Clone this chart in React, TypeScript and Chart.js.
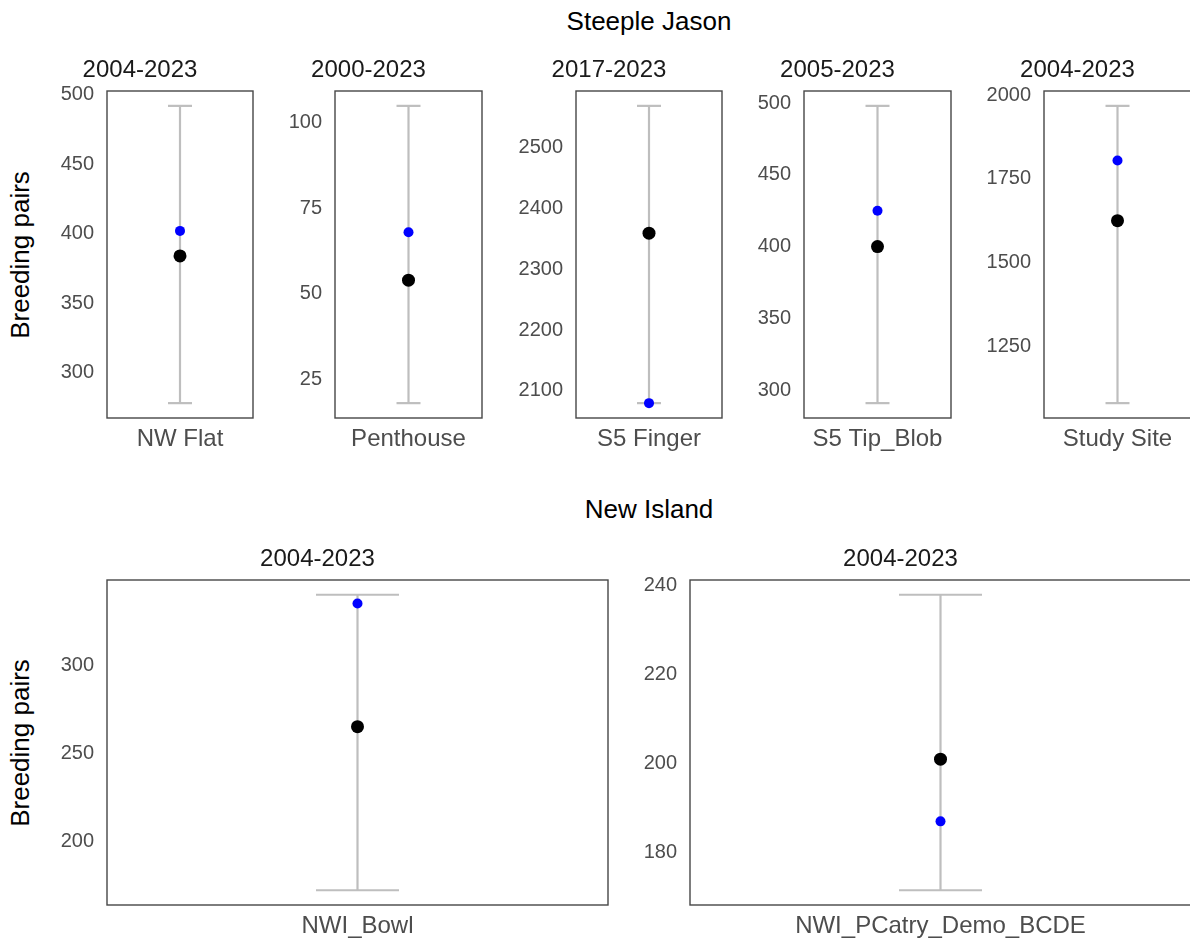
import React, { useEffect, useRef } from 'react';
import { Chart, registerables } from 'chart.js';

Chart.register(...registerables);

const FONT = '"Liberation Sans", Arial, Helvetica, sans-serif';

// Steeple Jason colonies
const sjSites = ['NW Flat', 'Penthouse', 'S5 Finger', 'S5 Tip_Blob', 'Study Site'];
const sjPeriods = ['2004-2023', '2000-2023', '2017-2023', '2005-2023', '2004-2023'];
const sjMin = [278, 18, 2080, 291, 1080];
const sjMax = [492, 105, 2568, 498, 1968];
const sjMean = [384, 54, 2359, 400, 1625];
const sjLatest = [402, 68, 2080, 425, 1805];
const sjTicks = [
  [300, 350, 400, 450, 500],
  [25, 50, 75, 100],
  [2100, 2200, 2300, 2400, 2500],
  [300, 350, 400, 450, 500],
  [1250, 1500, 1750, 2000],
];

// New Island colonies
const niSites = ['NWI_Bowl', 'NWI_PCatry_Demo_BCDE'];
const niPeriods = ['2004-2023', '2004-2023'];
const niMin = [172, 171.5];
const niMax = [340, 238];
const niMean = [265, 201];
const niLatest = [335, 187];
const niTicks = [
  [200, 250, 300],
  [180, 200, 220, 240],
];

// panel geometry (plot frame boxes)
const AXIS_W = 80;
const XAXIS_H = 45;
const PAD_R = 4;
const TITLE_SIZE = 24;
const TITLE_PAD = 6.2;
const TITLE_H = TITLE_SIZE * 1.2 + TITLE_PAD;

const topLefts = [107, 335, 576, 804, 1044];
const topWidths = [146, 147, 146, 147, 147];
const TOP_Y = 91;
const TOP_H = 327;
const botLefts = [107, 690];
const botWidths = [501, 501];
const BOT_Y = 580;
const BOT_H = 325;

const framePlugin = {
  id: 'panelFrame',
  afterDraw(chart: any) {
    const { ctx, chartArea: a } = chart;
    ctx.save();
    ctx.strokeStyle = '#474747';
    ctx.lineWidth = 1.4;
    ctx.strokeRect(a.left, a.top, a.right - a.left, a.bottom - a.top);
    ctx.restore();
  },
};

type PanelProps = {
  site: string;
  period: string;
  lo: number;
  hi: number;
  mean: number;
  latest: number;
  ticks: number[];
  left: number;
  top: number;
  width: number;
  height: number;
  capHalf: number;
};

function Panel(p: PanelProps) {
  const ref = useRef<HTMLCanvasElement | null>(null);
  const cw = AXIS_W + p.width + PAD_R;
  const ch = TITLE_H + p.height + XAXIS_H;

  useEffect(() => {
    if (!ref.current) return;
    const pad = 0.05 * (p.hi - p.lo);
    const chart = new Chart(ref.current, {
      type: 'scatter',
      data: {
        datasets: [
          {
            type: 'scatter',
            data: [{ x: 0, y: p.latest }],
            pointRadius: 5,
            pointBackgroundColor: '#0000ff',
            pointBorderWidth: 0,
            order: 0,
          } as any,
          {
            type: 'scatter',
            data: [{ x: 0, y: p.mean }],
            pointRadius: 6.5,
            pointBackgroundColor: '#000000',
            pointBorderWidth: 0,
            order: 1,
          } as any,
          {
            type: 'scatter',
            data: [
              { x: 0, y: p.lo },
              { x: 0, y: p.hi },
            ],
            pointStyle: 'line',
            pointRadius: p.capHalf,
            pointBorderColor: '#bebebe',
            pointBorderWidth: 2.2,
            order: 2,
          } as any,
          {
            type: 'line',
            data: [
              { x: 0, y: p.lo },
              { x: 0, y: p.hi },
            ],
            borderColor: '#bebebe',
            borderWidth: 2.2,
            pointRadius: 0,
            order: 3,
          } as any,
        ],
      },
      options: {
        animation: false,
        responsive: false,
        events: [],
        layout: { autoPadding: false, padding: { left: 0, right: PAD_R, top: 0, bottom: 0 } },
        plugins: {
          legend: { display: false },
          tooltip: { enabled: false },
          title: {
            display: true,
            text: p.period,
            color: '#1a1a1a',
            font: { family: FONT, size: TITLE_SIZE, weight: 'normal' },
            padding: { top: 0, bottom: TITLE_PAD },
          },
        },
        scales: {
          x: {
            type: 'linear',
            min: -1,
            max: 1,
            grid: { display: false, drawTicks: false },
            border: { display: false },
            afterBuildTicks: (s: any) => {
              s.ticks = [{ value: 0 }];
            },
            afterFit: (s: any) => {
              s.height = XAXIS_H;
            },
            ticks: {
              callback: () => p.site,
              color: '#4d4d4d',
              font: { family: FONT, size: 24 },
              padding: 7,
              maxRotation: 0,
              autoSkip: false,
            },
          },
          y: {
            type: 'linear',
            min: p.lo - pad,
            max: p.hi + pad,
            grid: { display: false, drawTicks: false },
            border: { display: false },
            afterBuildTicks: (s: any) => {
              s.ticks = p.ticks.map((v) => ({ value: v }));
            },
            afterFit: (s: any) => {
              s.width = AXIS_W;
            },
            ticks: {
              callback: (v: any) => String(v),
              color: '#4d4d4d',
              font: { family: FONT, size: 20 },
              padding: 13,
            },
          },
        },
      } as any,
      plugins: [framePlugin],
    });
    return () => chart.destroy();
  }, []);

  return (
    <canvas
      ref={ref}
      width={cw}
      height={ch}
      style={{
        position: 'absolute',
        left: p.left - AXIS_W,
        top: p.top - TITLE_H,
        width: cw,
        height: ch,
        display: 'block',
      }}
    />
  );
}

function YTitle({ cy }: { cy: number }) {
  const w = 300;
  const size = 26;
  return (
    <div
      style={{
        position: 'absolute',
        left: 20 - w / 2,
        top: cy - size / 2,
        width: w,
        height: size,
        lineHeight: `${size}px`,
        fontSize: size,
        textAlign: 'center',
        color: '#000',
        transform: 'rotate(-90deg)',
        transformOrigin: 'center center',
        whiteSpace: 'nowrap',
      }}
    >
      Breeding pairs
    </div>
  );
}

function RowTitle({ text, cy }: { text: string; cy: number }) {
  const size = 26;
  return (
    <div
      style={{
        position: 'absolute',
        left: 649 - 200,
        top: cy - size * 0.49,
        width: 400,
        height: size,
        lineHeight: `${size}px`,
        fontSize: size,
        textAlign: 'center',
        color: '#000',
        whiteSpace: 'nowrap',
      }}
    >
      {text}
    </div>
  );
}

export default function App() {
  useEffect(() => {
    document.body.style.margin = '0';
    document.body.style.background = '#ffffff';
  }, []);

  return (
    <div
      style={{
        position: 'relative',
        width: 1190,
        height: 939,
        overflow: 'hidden',
        background: '#ffffff',
        fontFamily: FONT,
      }}
    >
      <RowTitle text="Steeple Jason" cy={21} />
      <RowTitle text="New Island" cy={509} />
      <YTitle cy={TOP_Y + TOP_H / 2} />
      <YTitle cy={BOT_Y + BOT_H / 2} />
      {sjSites.map((site, i) => (
        <Panel
          key={site}
          site={site}
          period={sjPeriods[i]}
          lo={sjMin[i]}
          hi={sjMax[i]}
          mean={sjMean[i]}
          latest={sjLatest[i]}
          ticks={sjTicks[i]}
          left={topLefts[i]}
          top={TOP_Y}
          width={topWidths[i]}
          height={TOP_H}
          capHalf={12}
        />
      ))}
      {niSites.map((site, i) => (
        <Panel
          key={site}
          site={site}
          period={niPeriods[i]}
          lo={niMin[i]}
          hi={niMax[i]}
          mean={niMean[i]}
          latest={niLatest[i]}
          ticks={niTicks[i]}
          left={botLefts[i]}
          top={BOT_Y}
          width={botWidths[i]}
          height={BOT_H}
          capHalf={41.5}
        />
      ))}
    </div>
  );
}
